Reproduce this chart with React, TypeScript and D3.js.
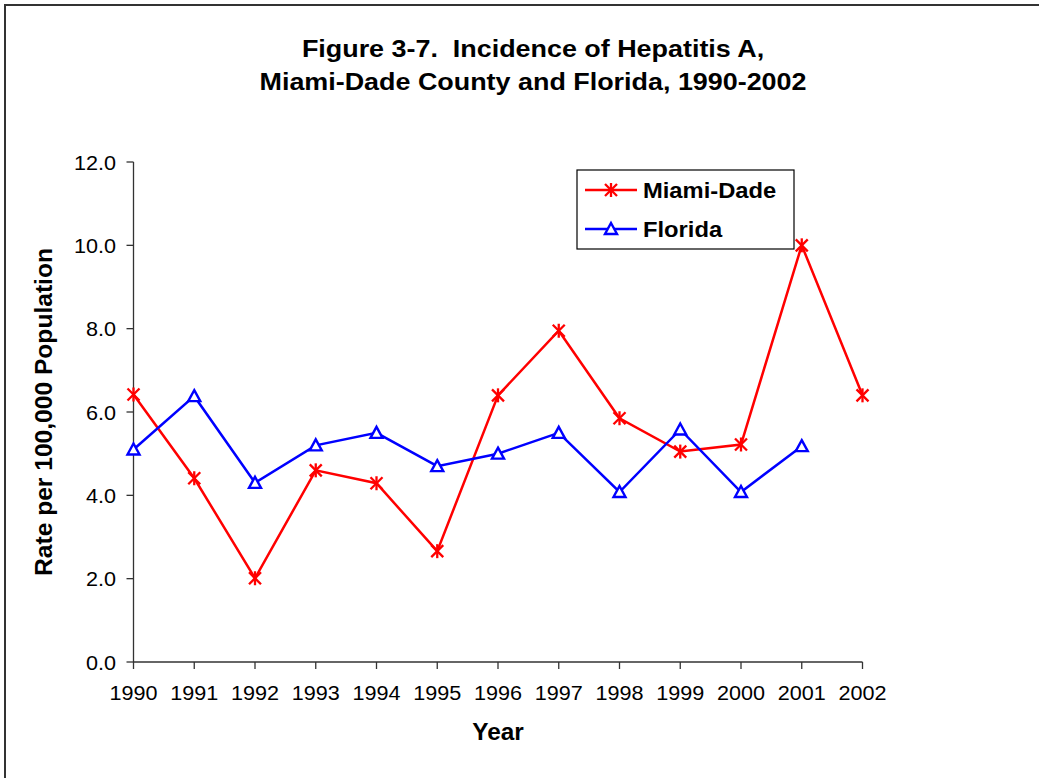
import React, { useEffect } from "react";
import * as d3 from "d3";

const years = [1990, 1991, 1992, 1993, 1994, 1995, 1996, 1997, 1998, 1999, 2000, 2001, 2002];
const miamiDade = [6.42, 4.41, 2.01, 4.6, 4.29, 2.66, 6.4, 7.95, 5.85, 5.05, 5.22, 10.0, 6.4];
const florida = [5.1, 6.38, 4.3, 5.2, 5.5, 4.7, 5.0, 5.5, 4.08, 5.58, 4.08, 5.18];
const yTicks = [0, 2, 4, 6, 8, 10, 12];
const titleLines = ["Figure 3-7.  Incidence of Hepatitis A,", "Miami-Dade County and Florida, 1990-2002"];
const seriesNames = ["Miami-Dade", "Florida"];

const FONT = "'Liberation Sans', Arial, Helvetica, sans-serif";

function SText(props: {
  x: number; y: number; sx: number; size: number; bold?: boolean;
  anchor?: string; rotate?: number; children: React.ReactNode;
}) {
  const { x, y, sx, size, bold, anchor = "start", rotate = 0, children } = props;
  return (
    <text
      transform={`translate(${x},${y}) rotate(${rotate}) scale(${sx},1)`}
      fontFamily={FONT}
      fontSize={size}
      fontWeight={bold ? "bold" : "normal"}
      textAnchor={anchor}
      fill="#000"
      style={{ whiteSpace: "pre" }}
    >
      {children}
    </text>
  );
}

function Star({ x, y }: { x: number; y: number }) {
  const r = 6;
  return (
    <g stroke="#FF0000" strokeWidth={2.3} fill="none">
      <line x1={x - r} y1={y - r} x2={x + r} y2={y + r} />
      <line x1={x - r} y1={y + r} x2={x + r} y2={y - r} />
      <line x1={x} y1={y - r - 1} x2={x} y2={y + r + 1} />
    </g>
  );
}

function Tri({ x, y }: { x: number; y: number }) {
  const w = 6, h = 10;
  const p = `M${x},${y - h / 2 - 1} L${x + w},${y + h / 2} L${x - w},${y + h / 2} Z`;
  return <path d={p} stroke="#0000FF" strokeWidth={2.4} fill="#fff" />;
}

export default function App() {
  const W = 1039, H = 778;
  useEffect(() => {
    document.body.style.margin = "0";
    document.body.style.overflow = "hidden";
  }, []);
  const xScale = d3.scaleLinear().domain([1990, 2002]).range([133.5, 862.5]);
  const yScale = d3.scaleLinear().domain([0, 12]).range([662, 162]);
  const line = d3.line<number>().x((_, i) => xScale(years[i])).y((d) => yScale(d));
  const fmt = d3.format(".1f");
  const plotL = xScale(1990), plotR = xScale(2002), plotB = yScale(0), plotT = yScale(12);

  return (
    <svg width={W} height={H} style={{ position: "absolute", left: 0, top: 0, background: "#fff", overflow: "hidden", display: "block" }}>
      <rect x={0} y={0} width={W} height={H} fill="#fff" />
      <path d={`M5,${H} V5 H${W}`} fill="none" stroke="#333" strokeWidth={2} />

      {/* title */}
      <SText x={533} y={57} sx={1.17} size={23} bold anchor="middle">{titleLines[0]}</SText>
      <SText x={533} y={90} sx={1.17} size={23} bold anchor="middle">{titleLines[1]}</SText>

      {/* axes */}
      <line x1={plotL} y1={plotT} x2={plotL} y2={plotB} stroke="#333" strokeWidth={1.3} />
      <line x1={plotL} y1={plotB} x2={plotR} y2={plotB} stroke="#333" strokeWidth={1.3} />
      {yTicks.map((t) => (
        <g key={t}>
          <line x1={plotL - 7} x2={plotL} y1={yScale(t)} y2={yScale(t)} stroke="#333" strokeWidth={1.3} />
          <SText x={116} y={yScale(t) + 7.5} sx={1.03} size={21} anchor="end">{fmt(t)}</SText>
        </g>
      ))}
      {years.map((yr) => (
        <g key={yr}>
          <line x1={xScale(yr)} x2={xScale(yr)} y1={plotB} y2={plotB + 7} stroke="#333" strokeWidth={1.3} />
          <SText x={xScale(yr)} y={699.5} sx={1.03} size={21} anchor="middle">{String(yr)}</SText>
        </g>
      ))}

      {/* axis titles */}
      <SText x={498} y={740} sx={1.06} size={23} bold anchor="middle">Year</SText>
      <SText x={52} y={(plotT + plotB) / 2} sx={1.07} size={23} bold anchor="middle" rotate={-90}>
        Rate per 100,000 Population
      </SText>

      {/* series */}
      <path d={line(miamiDade) || ""} fill="none" stroke="#FF0000" strokeWidth={2.5} />
      {miamiDade.map((v, i) => <Star key={i} x={xScale(years[i])} y={yScale(v)} />)}
      <path d={line(florida) || ""} fill="none" stroke="#0000FF" strokeWidth={2.5} />
      {florida.map((v, i) => <Tri key={i} x={xScale(years[i])} y={yScale(v)} />)}

      {/* legend */}
      <rect x={577} y={170} width={217} height={79} fill="#fff" stroke="#000" strokeWidth={1.2} />
      <line x1={585} x2={637} y1={190} y2={190} stroke="#FF0000" strokeWidth={2.5} />
      <Star x={611} y={190} />
      <SText x={643} y={197.5} sx={1.08} size={22} bold>{seriesNames[0]}</SText>
      <line x1={585} x2={637} y1={229} y2={229} stroke="#0000FF" strokeWidth={2.5} />
      <Tri x={611} y={229} />
      <SText x={643} y={236.5} sx={1.08} size={22} bold>{seriesNames[1]}</SText>
    </svg>
  );
}
